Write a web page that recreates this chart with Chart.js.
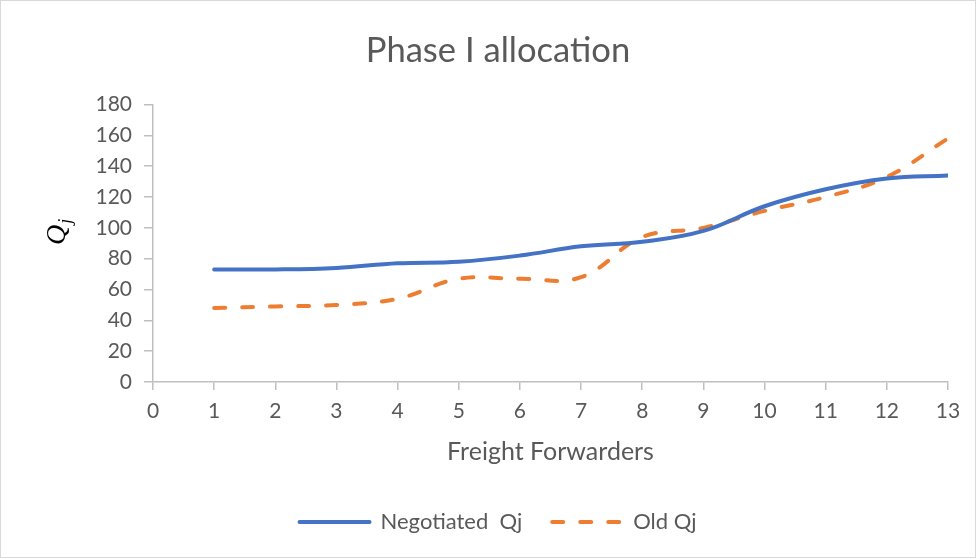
<!DOCTYPE html>
<html>
<head>
<meta charset="utf-8">
<script src="https://cdn.jsdelivr.net/npm/chart.js@4/dist/chart.umd.min.js"></script>
<style>
  html, body { margin: 0; padding: 0; background: #fff; }
  #wrap { width: 977px; height: 559px; }
</style>
</head>
<body>
<div id="wrap"><canvas id="chart" width="977" height="559"></canvas></div>
<script>
const forwarders = [1, 2, 3, 4, 5, 6, 7, 8, 9, 10, 11, 12, 13];
const negotiatedQj = [73, 73, 74, 77, 78, 82, 88, 91, 98, 114, 125, 132, 134];
const oldQj = [48, 49, 50, 54, 67, 67, 68, 94, 100, 111, 120, 133, 158];
const yTicks = [0, 20, 40, 60, 80, 100, 120, 140, 160, 180];
const xTicks = [0, 1, 2, 3, 4, 5, 6, 7, 8, 9, 10, 11, 12, 13];

const textColor = "#595959";
const axisColor = "#BFBFBF";
const fontFamily = "Lato, 'Open Sans', sans-serif";

function points(values) {
  return values.map((v, i) => ({ x: forwarders[i], y: v }));
}

// outer frame around the chart
const framePlugin = {
  id: "frame",
  beforeDraw(chart) {
    const ctx = chart.ctx;
    ctx.save();
    ctx.fillStyle = "#fff";
    ctx.fillRect(0, 0, chart.width, chart.height);
    ctx.strokeStyle = "#D9D9D9";
    ctx.lineWidth = 1;
    ctx.strokeRect(0.5, 0.5, chart.width - 2, chart.height - 2);
    ctx.restore();
  },
};

// Q with subscript j, rotated, as the y axis title
const yTitlePlugin = {
  id: "yTitle",
  afterDraw(chart) {
    const ctx = chart.ctx;
    ctx.save();
    ctx.translate(65, 245);
    ctx.rotate(-Math.PI / 2);
    ctx.fillStyle = "#000";
    ctx.textBaseline = "alphabetic";
    ctx.textAlign = "left";
    ctx.font = "italic 28px 'Liberation Serif', serif";
    ctx.fillText("Q", 0, 0);
    const w = ctx.measureText("Q").width;
    ctx.font = "italic 18px 'Liberation Serif', serif";
    ctx.fillText("j", w + 1, 6);
    ctx.restore();
  },
};

// legend entries keep the dataset dash pattern
const baseLabels = Chart.defaults.plugins.legend.labels.generateLabels;
function legendLabels(chart) {
  return baseLabels(chart).map((item) => {
    const ds = chart.data.datasets[item.datasetIndex];
    item.lineDash = ds.borderDash || [];
    item.lineCap = "round";
    item.lineWidth = 4;
    return item;
  });
}

const ctx = document.getElementById("chart").getContext("2d");
const chart = new Chart(ctx, {
  type: "line",
  data: {
    datasets: [
      {
        label: "Negotiated  Qj",
        data: points(negotiatedQj),
        borderColor: "#4472C4",
        backgroundColor: "#4472C4",
        borderWidth: 4,
        borderCapStyle: "round",
        tension: 0.4,
        pointRadius: 0,
        fill: false,
      },
      {
        label: "Old Qj",
        data: points(oldQj),
        borderColor: "#ED7D31",
        backgroundColor: "#ED7D31",
        borderWidth: 4,
        borderDash: [11, 17],
        borderCapStyle: "round",
        tension: 0.4,
        pointRadius: 0,
        fill: false,
      },
    ],
  },
  plugins: [framePlugin, yTitlePlugin],
  options: {
    responsive: false,
    animation: false,
    devicePixelRatio: 1,
    layout: { padding: { left: 48, right: 29, top: 0, bottom: 16 } },
    plugins: {
      title: {
        display: true,
        text: "Phase I allocation",
        color: textColor,
        font: { family: fontFamily, size: 34.6, weight: "normal" },
        padding: { top: 30, bottom: 33 },
      },
      legend: {
        position: "bottom",
        labels: {
          color: textColor,
          font: { family: fontFamily, size: 22 },
          usePointStyle: true,
          pointStyle: "line",
          pointStyleWidth: 70,
          boxWidth: 70,
          boxHeight: 22,
          padding: 30,
          generateLabels: legendLabels,
        },
      },
      tooltip: { enabled: false },
    },
    scales: {
      x: {
        type: "linear",
        min: 0,
        max: 13,
        afterBuildTicks: (scale) => { scale.ticks = xTicks.map((v) => ({ value: v })); },
        afterFit: (scale) => { scale.height = 99; },
        ticks: { color: textColor, font: { family: fontFamily, size: 21 }, padding: 9 },
        grid: { drawOnChartArea: false, drawTicks: true, tickLength: 8, color: axisColor, lineWidth: 1.5 },
        border: { color: axisColor, width: 1.5 },
        title: {
          display: true,
          text: "Freight Forwarders",
          color: textColor,
          font: { family: fontFamily, size: 25 },
          padding: { top: 0, bottom: 14 },
        },
      },
      y: {
        min: 0,
        max: 180,
        afterBuildTicks: (scale) => { scale.ticks = yTicks.map((v) => ({ value: v })); },
        afterFit: (scale) => { scale.width = 105; },
        ticks: { color: textColor, font: { family: fontFamily, size: 21 }, padding: 12 },
        grid: { drawOnChartArea: false, drawTicks: true, tickLength: 9, color: axisColor, lineWidth: 1.5 },
        border: { color: axisColor, width: 1.5 },
      },
    },
  },
});
</script>
</body>
</html>
